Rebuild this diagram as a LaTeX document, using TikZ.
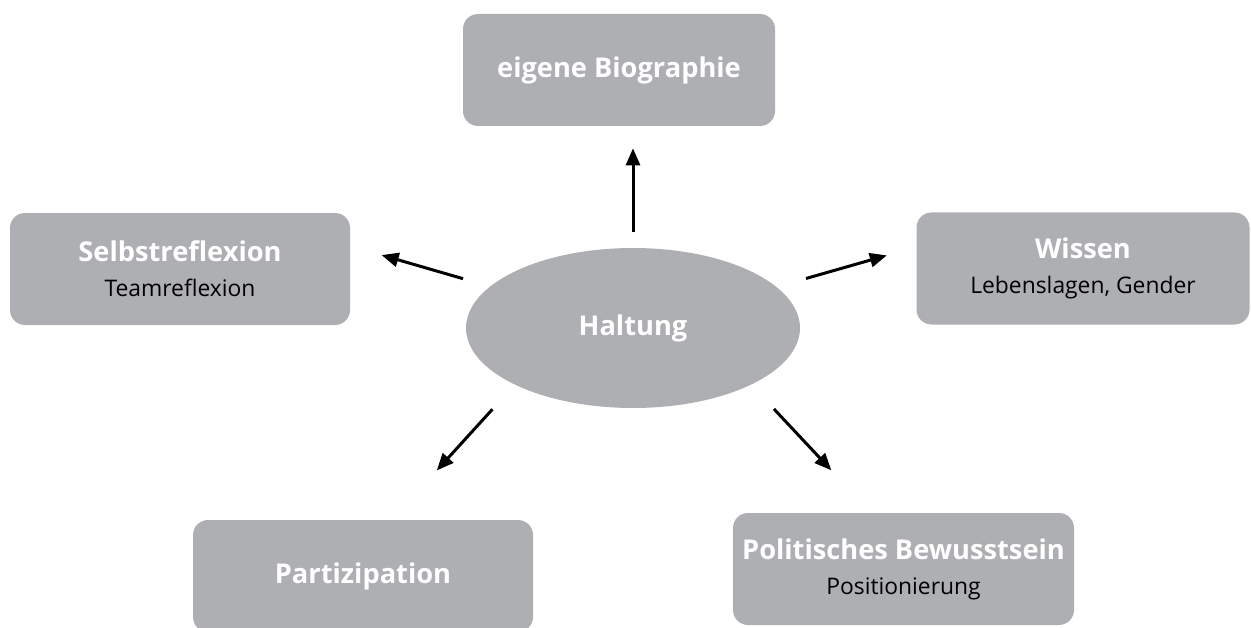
\documentclass[tikz,border=0pt]{standalone}
\usepackage{fontspec}
\setmainfont{Open Sans}
\usepackage{tikz}
\usetikzlibrary{positioning,arrows.meta,shapes.geometric}
\definecolor{hBox}{RGB}{174,175,178}
\definecolor{hText}{RGB}{255,255,255}
\definecolor{hSub}{RGB}{0,0,0}
\newcommand{\subline}[1]{{\fontsize{13}{18}\selectfont\mdseries\color{hSub}#1}}
\tikzset{
    base/.style={font=\fontsize{15.5}{20}\selectfont\bfseries, align=center},
    topic/.style={base, rectangle, rounded corners=3mm, fill=hBox, text=hText,
                  minimum height=2.24cm, inner sep=0pt},
    core/.style={base, ellipse, fill=hBox, text=hText,
                 minimum width=6.68cm, minimum height=3.2cm, inner sep=0pt},
    flow/.style={-{Triangle[length=3.4mm,width=2.8mm]}, line width=1.7pt, color=black}
}
\begin{document}
\begin{tikzpicture}
  \useasboundingbox (0,0) rectangle (25.02,-12.56);

  % centre
  \node[core] (halt) at (12.66,-6.56) {Haltung};

  % the five topics round it
  \node[topic, minimum width=6.24cm] (bio) at (12.38,-1.40) {eigene Biographie};
  \node[topic, minimum width=6.80cm] (self) at (3.60,-5.38)
       {Selbstreflexion\\\subline{Teamreflexion}};
  \node[topic, minimum width=6.66cm] (wis) at (21.66,-5.37)
       {Wissen\\\subline{Lebenslagen, Gender}};
  \node[topic, minimum width=6.80cm] (part) at (7.26,-11.52) {Partizipation};
  \node[topic, minimum width=6.82cm] (pol) at (18.07,-11.38)
       {Politisches Bewusstsein\\\subline{Positionierung}};

  % arrows out of the centre
  \draw[flow, shorten <=0.32cm, shorten >=0.44cm] (halt.north) -- (halt.north |- bio.south);
  \draw[flow, shorten <=3.54cm, shorten >=0.65cm] (halt.center) -- ([yshift=0.46cm]self.east);
  \draw[flow, shorten <=3.60cm, shorten >=0.61cm] (halt.center) -- ([yshift=0.43cm]wis.west);
  \draw[flow, shorten <=0.66cm, shorten >=1.33cm] (halt.south west) -- ([xshift=0.58cm]part.north);
  \draw[flow, shorten <=0.66cm, shorten >=1.16cm] (halt.south east) -- ([xshift=-0.65cm]pol.north);
\end{tikzpicture}
\end{document}
